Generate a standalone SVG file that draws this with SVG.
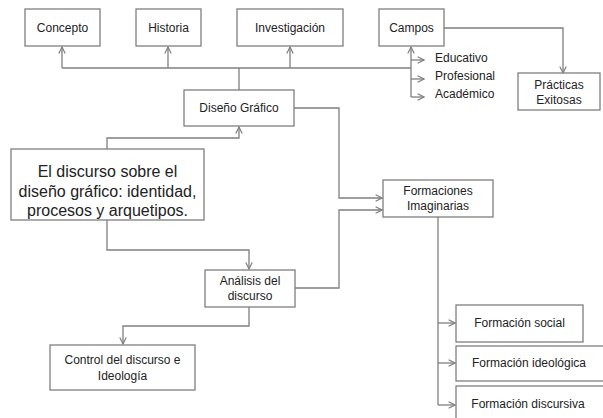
<svg xmlns="http://www.w3.org/2000/svg" width="603" height="418" viewBox="0 0 603 418">
<style>
.box{fill:#fff;stroke:#7f7f7f;stroke-width:1.3}
.ln{fill:none;stroke:#7f7f7f;stroke-width:1.3}
.t{font-family:"Liberation Sans",Arial,sans-serif;font-size:12px;fill:#222;text-anchor:middle}
.tl{font-family:"Liberation Sans",Arial,sans-serif;font-size:12px;fill:#222}
.big{font-family:"Liberation Sans",Arial,sans-serif;font-size:16px;fill:#222;text-anchor:middle}
</style>
<defs>
<marker id="a" viewBox="0 0 10 10" refX="9" refY="5" markerWidth="8" markerHeight="8" markerUnits="userSpaceOnUse" orient="auto">
<path d="M1,1 L9,5 L1,9" fill="none" stroke="#7f7f7f" stroke-width="1.5"/>
</marker>
</defs>
<rect width="603" height="418" fill="#fff"/>
<g id="connectors">
<path class="ln" d="M239,90 V68"/>
<path class="ln" d="M62,68 H411"/>
<path class="ln" d="M62,68 V47" marker-end="url(#a)"/>
<path class="ln" d="M168,68 V47" marker-end="url(#a)"/>
<path class="ln" d="M290,68 V47" marker-end="url(#a)"/>
<path class="ln" d="M411,97 V47" marker-end="url(#a)"/>
<path class="ln" d="M411,60 H424" marker-end="url(#a)"/>
<path class="ln" d="M411,79 H424" marker-end="url(#a)"/>
<path class="ln" d="M411,97 H424" marker-end="url(#a)"/>
<path class="ln" d="M444,28 H563 V73" marker-end="url(#a)"/>
<path class="ln" d="M294,108 H339 V198 H382" marker-end="url(#a)"/>
<path class="ln" d="M295,288 H339 V210 H382" marker-end="url(#a)"/>
<path class="ln" d="M107,149 V138 H239 V127" marker-end="url(#a)"/>
<path class="ln" d="M107,220 V250 H249 V269" marker-end="url(#a)"/>
<path class="ln" d="M249,307 V326 H123 V344" marker-end="url(#a)"/>
<path class="ln" d="M438,217 V405"/>
<path class="ln" d="M438,323 H455" marker-end="url(#a)"/>
<path class="ln" d="M438,363 H455" marker-end="url(#a)"/>
<path class="ln" d="M438,405 H455" marker-end="url(#a)"/>
</g>
<g id="concepto"><rect class="box" x="25" y="9" width="75" height="37"/><text class="t" x="62.5" y="31.5">Concepto</text></g>
<g id="historia"><rect class="box" x="136" y="9" width="65" height="37"/><text class="t" x="168.5" y="31.5">Historia</text></g>
<g id="investigacion"><rect class="box" x="237" y="9" width="106" height="37"/><text class="t" x="290" y="31.5">Investigación</text></g>
<g id="campos"><rect class="box" x="379" y="9" width="65" height="37"/><text class="t" x="411.5" y="31.5">Campos</text></g>
<g id="subcampos"><text class="tl" x="435" y="62">Educativo</text><text class="tl" x="435" y="80">Profesional</text><text class="tl" x="435" y="98">Académico</text></g>
<g id="practicas"><rect class="box" x="518" y="73" width="82" height="37"/><text class="t" x="559" y="89">Prácticas</text><text class="t" x="559" y="104">Exitosas</text></g>
<g id="diseno"><rect class="box" x="184" y="90" width="110" height="36"/><text class="t" x="239" y="112">Diseño Gráfico</text></g>
<g id="discurso"><rect class="box" x="11" y="149" width="193" height="71"/><text class="big" x="107.5" y="177">El discurso sobre el</text><text class="big" x="107.5" y="197">diseño gráfico: identidad,</text><text class="big" x="107.5" y="216">procesos y arquetipos.</text></g>
<g id="formaciones"><rect class="box" x="383" y="180" width="110" height="37"/><text class="t" x="438" y="195">Formaciones</text><text class="t" x="438" y="210">Imaginarias</text></g>
<g id="analisis"><rect class="box" x="205" y="270" width="90" height="37"/><text class="t" x="250" y="285">Análisis del</text><text class="t" x="250" y="300">discurso</text></g>
<g id="control"><rect class="box" x="50" y="345" width="145" height="45"/><text class="t" x="122.5" y="364">Control del discurso e</text><text class="t" x="122.5" y="380">Ideología</text></g>
<g id="social"><rect class="box" x="456" y="305" width="127" height="37"/><text class="t" x="519.5" y="327">Formación social</text></g>
<g id="ideologica"><rect class="box" x="456" y="346" width="150" height="35"/><text class="t" x="529" y="367">Formación ideológica</text></g>
<g id="discursiva"><rect class="box" x="456" y="386" width="150" height="40"/><text class="t" x="528" y="408">Formación discursiva</text></g>
</svg>
